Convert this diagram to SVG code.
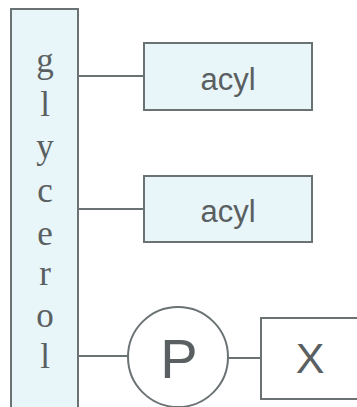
<svg xmlns="http://www.w3.org/2000/svg" width="357" height="407" viewBox="0 0 357 407">
<style>
.box{fill:#e8f5f9;stroke:#6a7273;stroke-width:2}
.wbox{fill:#ffffff;stroke:#6a7273;stroke-width:2}
.ln{stroke:#6a7273;stroke-width:1.8;fill:none}
.ser{font-family:"Liberation Serif","Times New Roman",serif;font-size:35px;fill:#5a6061;text-anchor:middle}
.sans{font-family:"Liberation Sans",Arial,sans-serif;fill:#5a6061;text-anchor:middle}
</style>
<rect width="357" height="407" fill="#ffffff"/>
<g id="connectors">
<line class="ln" x1="78" y1="76" x2="144" y2="76"/>
<line class="ln" x1="78" y1="209" x2="144" y2="209"/>
<line class="ln" x1="78" y1="356" x2="128" y2="356"/>
<line class="ln" x1="228" y1="358" x2="261" y2="358"/>
</g>
<g id="glycerol">
<rect class="box" x="11" y="9" width="67" height="410"/>
<text class="ser" x="45" y="72">g</text>
<text class="ser" x="45" y="116">l</text>
<text class="ser" x="45" y="158">y</text>
<text class="ser" x="45" y="202">c</text>
<text class="ser" x="45" y="245">e</text>
<text class="ser" x="45" y="285">r</text>
<text class="ser" x="45" y="327">o</text>
<text class="ser" x="45" y="368">l</text>
</g>
<g id="acyl1">
<rect class="box" x="144" y="43" width="168" height="67"/>
<text class="sans" x="228" y="90" font-size="31">acyl</text>
</g>
<g id="acyl2">
<rect class="box" x="144" y="176" width="168" height="66"/>
<text class="sans" x="228" y="222" font-size="31">acyl</text>
</g>
<g id="phosphate">
<circle class="wbox" cx="178" cy="357" r="50"/>
<text class="sans" x="179" y="378" font-size="56">P</text>
</g>
<g id="X">
<rect class="wbox" x="261" y="318" width="110" height="81"/>
<text class="sans" x="310" y="373" font-size="43">X</text>
</g>
</svg>
